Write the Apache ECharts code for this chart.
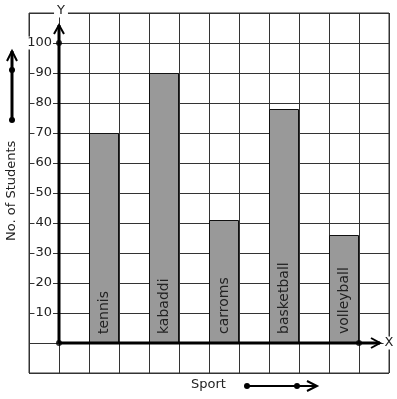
<!DOCTYPE html>
<html>
<head>
    <meta charset="utf-8">
    <title>Sport</title>
    <script src="https://cdn.jsdelivr.net/npm/echarts@6/dist/echarts.min.js"></script>
</head>
<body style="margin:0;background-color:#fff;">
    <div id="main" style="width:397px;height:399px;"></div>
    <script type="text/javascript">
        // 数据
        var sports = ['tennis', 'kabaddi', 'carroms', 'basketball', 'volleyball'];
        var sportPos = [1.5, 3.5, 5.5, 7.5, 9.5];
        var students = [70, 90, 41, 78, 36];
        var yTicks = [10, 20, 30, 40, 50, 60, 70, 80, 90, 100];

        // 坐标轴（带箭头）: [x0, y0, x1, y1]
        var axisLines = [[0, 0, 0, 106], [0, 0, 10.7, 0]];
        var axisDots = [[0, 0], [0, 100], [10, 0]];

        var barData = sportPos.map(function (x, i) { return [x, students[i]]; });

        var myChart = echarts.init(document.getElementById('main'));

        function chevron(tip, dx, dy, len, half) {
            // dx,dy 为方向单位向量
            var bx = tip[0] - dx * len, by = tip[1] - dy * len;
            var nx = -dy, ny = dx;
            return [[bx + nx * half, by + ny * half], tip, [bx - nx * half, by - ny * half]];
        }

        var font = 'DejaVu Sans';

        var option = {
            animation: false,
            textStyle: { fontFamily: font },
            grid: {
                left: 29, top: 13, width: 360, height: 360,
                show: true, borderColor: '#333', borderWidth: 1
            },
            xAxis: {
                type: 'value', min: -1, max: 11, interval: 1,
                axisLine: { show: false }, axisTick: { show: false }, axisLabel: { show: false },
                splitLine: { show: true, lineStyle: { color: '#333', width: 1 } }
            },
            yAxis: {
                type: 'value', min: -10, max: 110, interval: 10,
                axisLine: { show: false },
                axisTick: { show: false },
                axisLabel: {
                    inside: true, margin: 24, align: 'right', color: '#222', fontSize: 13,
                    fontFamily: font, backgroundColor: '#fff', padding: [0, 1, 0, 1],
                    formatter: function (v) { return yTicks.indexOf(v) >= 0 ? String(v) : ''; }
                },
                splitLine: { show: true, lineStyle: { color: '#333', width: 1 } }
            },
            series: [
                {
                    type: 'bar',
                    data: barData,
                    barWidth: 30,
                    itemStyle: { color: '#999999', borderColor: '#111', borderWidth: 1 },
                    label: {
                        show: true, position: 'insideBottom', rotate: 90,
                        align: 'left', verticalAlign: 'middle', distance: 9,
                        color: '#222', fontSize: 14, fontFamily: font,
                        formatter: function (p) { return sports[p.dataIndex]; }
                    },
                    z: 2
                },
                {
                    type: 'custom',
                    data: axisLines,
                    z: 5,
                    renderItem: function (params, api) {
                        var p0 = api.coord([api.value(0), api.value(1)]);
                        var p1 = api.coord([api.value(2), api.value(3)]);
                        var ddx = p1[0] - p0[0], ddy = p1[1] - p0[1];
                        var l = Math.sqrt(ddx * ddx + ddy * ddy);
                        var ch = chevron(p1, ddx / l, ddy / l, 9, 5);
                        return {
                            type: 'group',
                            children: [
                                { type: 'line', shape: { x1: p0[0], y1: p0[1], x2: p1[0], y2: p1[1] },
                                  style: { stroke: '#000', lineWidth: 3 } },
                                { type: 'polyline', shape: { points: ch },
                                  style: { stroke: '#000', lineWidth: 2, fill: null } }
                            ]
                        };
                    }
                },
                {
                    type: 'scatter',
                    data: axisDots,
                    symbol: 'circle', symbolSize: 6,
                    itemStyle: { color: '#000' },
                    z: 6
                }
            ],
            graphic: [
                { type: 'text', x: 61, y: 11, z: 10, style: { text: 'Y', fontSize: 13, fill: '#222', fontFamily: font,
                    align: 'center', verticalAlign: 'middle', backgroundColor: '#fff', padding: [0, 3] } },
                { type: 'text', x: 389, y: 343, z: 10, style: { text: 'X', fontSize: 13, fill: '#222', fontFamily: font,
                    align: 'center', verticalAlign: 'middle', backgroundColor: '#fff', padding: [0, 1] } },
                { type: 'text', left: 191, top: 378, style: { text: 'Sport', fontSize: 13, fill: '#222', fontFamily: font } },
                {
                    type: 'text', x: 5, y: 241, rotation: Math.PI / 2,
                    style: { text: 'No. of Students', fontSize: 13, fill: '#222', fontFamily: font }
                },
                // 左侧箭头
                { type: 'line', shape: { x1: 12, y1: 120, x2: 12, y2: 51 }, style: { stroke: '#000', lineWidth: 3 } },
                { type: 'polyline', shape: { points: [[7, 61], [12, 51], [17, 61]] }, style: { stroke: '#000', lineWidth: 2, fill: null } },
                { type: 'circle', shape: { cx: 12, cy: 120, r: 3 }, style: { fill: '#000' } },
                { type: 'circle', shape: { cx: 12, cy: 70, r: 3 }, style: { fill: '#000' } },
                // Sport 箭头
                { type: 'line', shape: { x1: 247, y1: 386, x2: 317, y2: 386 }, style: { stroke: '#000', lineWidth: 2 } },
                { type: 'polyline', shape: { points: [[307, 381], [317, 386], [307, 391]] }, style: { stroke: '#000', lineWidth: 2, fill: null } },
                { type: 'circle', shape: { cx: 247, cy: 386, r: 3 }, style: { fill: '#000' } },
                { type: 'circle', shape: { cx: 297, cy: 386, r: 3 }, style: { fill: '#000' } }
            ]
        };
        myChart.setOption(option);
    </script>
</body>
</html>
